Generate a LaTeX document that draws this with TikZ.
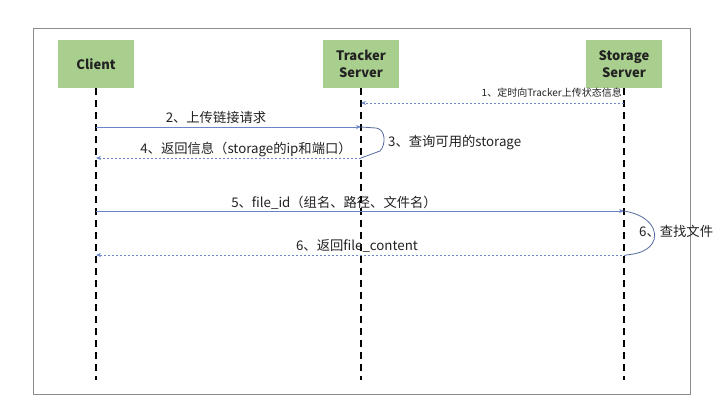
\documentclass[tikz,border=0pt]{standalone}
\usepackage{fontspec}
\setmainfont{Noto Sans CJK SC}
\usetikzlibrary{arrows.meta}
\definecolor{boxgreen}{HTML}{A9CF8E}
\definecolor{msgblue}{HTML}{6A86C8}
\definecolor{framegray}{HTML}{8C8C8C}
\definecolor{txt}{HTML}{222222}
\tikzset{
  actor/.style={fill=boxgreen, draw=none, minimum width=76pt, minimum height=48pt, align=center,
    font=\fontsize{13}{16.5}\selectfont\bfseries, text=txt, inner sep=0pt},
  lifeline/.style={draw=black, line width=1.4pt, dash pattern=on 7pt off 5pt},
  msgsolid/.style={draw=msgblue, line width=0.8pt, -{Stealth[length=5pt,width=4pt]}},
  msgdash/.style={draw=msgblue, line width=0.8pt, dash pattern=on 2pt off 2pt, -{Stealth[length=5pt,width=4pt]}},
  loopline/.style={draw=msgblue!80!black, line width=0.8pt},
  lbl/.style={font=\fontsize{13.3}{15}\selectfont, text=txt, inner sep=0pt},
  smalllbl/.style={font=\fontsize{10}{12}\selectfont, text=txt, inner sep=0pt},
}
\begin{document}
\begin{tikzpicture}[x=1pt,y=-1pt]
\useasboundingbox (0,0) rectangle (721,407);
\fill[white] (0,0) rectangle (721,407);
\draw[framegray, line width=1pt] (33,28) rectangle (690,394);

% actors
\node[actor] (client) at (96,64) {Client};
\node[actor] (tracker) at (361,64) {Tracker\\Server};
\node[actor] (storage) at (624,64) {Storage\\Server};

% lifeline ends
\coordinate (cend) at (96,380);
\coordinate (tend) at (361,380);
\coordinate (send) at (624,380);
\draw[lifeline] (client.south) -- (cend);
\draw[lifeline] (tracker.south) -- (tend);
\draw[lifeline] (storage.south) -- (send);

% message points
\coordinate (s1) at (624,103);
\coordinate (t1) at (361,103);
\coordinate (c2) at (96,127);
\coordinate (t2) at (361,127);
\coordinate (t4) at (361,158);
\coordinate (c4) at (96,158);
\coordinate (c5) at (96,211);
\coordinate (s5) at (624,211);
\coordinate (s6) at (626,255);
\coordinate (c6) at (96,255);

% 1
\draw[msgdash] (s1) -- (t1);
\node[smalllbl, anchor=east] (l1) at (622,93) {1、定时向Tracker上传状态信息};
% 2
\draw[msgsolid] (c2) -- (t2);
\node[lbl] (l2) at (216,117) {2、上传链接请求};
% 3
\draw[loopline] (t2) -- (376,128) .. controls (386,129) and (386,145) .. (380,151) -- (t4);
\node[lbl, anchor=west] (l3) at (388,143) {3、查询可用的storage};
% 4
\draw[msgdash] (t4) -- (c4);
\node[lbl] (l4) at (246,149) {4、返回信息（storage的ip和端口）};
% 5
\draw[msgsolid] (c5) -- (s5);
\node[lbl] (l5) at (334,203) {5、file\_id（组名、路径、文件名）};
% 6 loop
\draw[loopline] (s5) .. controls (650,215) and (660,232) .. (652,244) .. controls (646,252) and (636,254) .. (s6);
\node[lbl, anchor=west] (l6a) at (639,231) {6、查找文件};
% 6 return
\draw[msgdash] (s6) -- (c6);
\node[lbl] (l6) at (357,246) {6、返回file\_content};
\end{tikzpicture}
\end{document}
